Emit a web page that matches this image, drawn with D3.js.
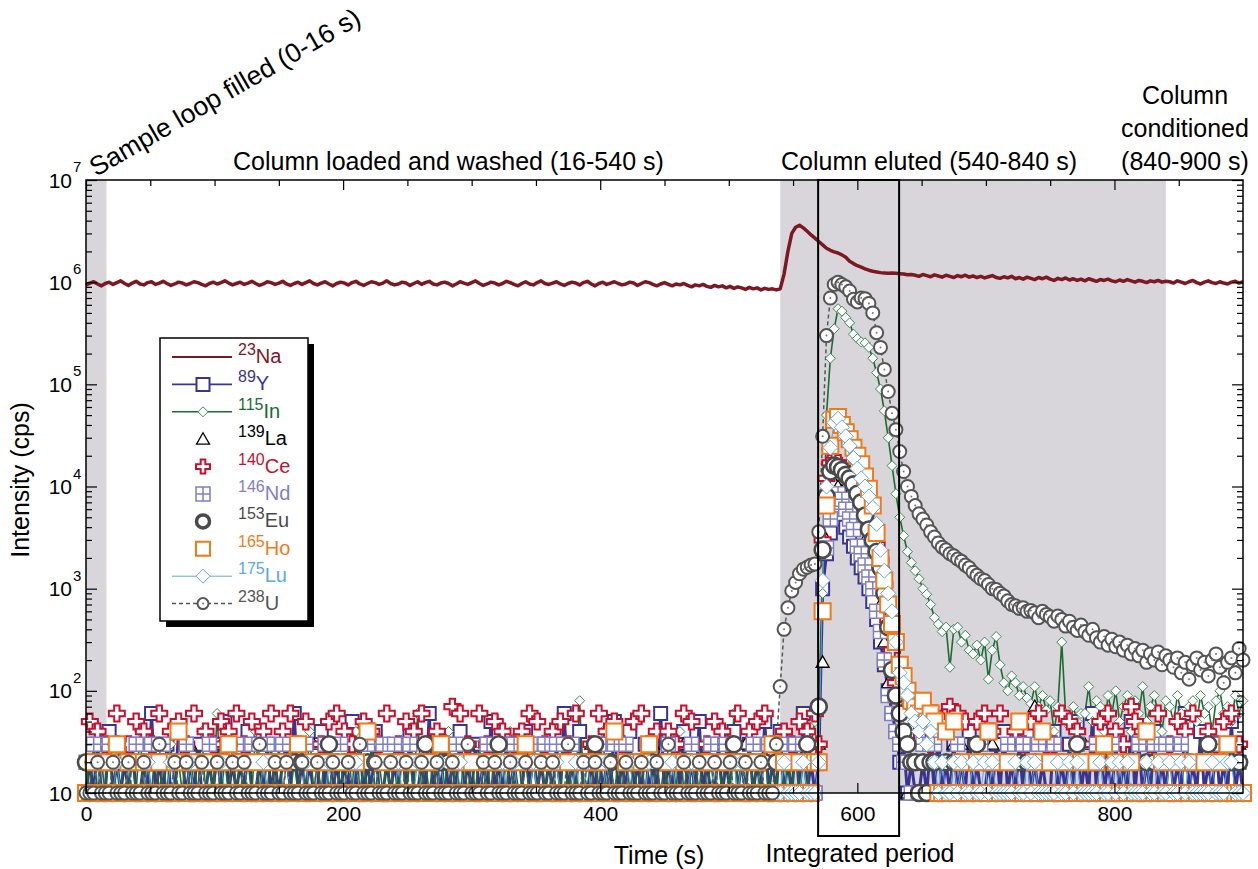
<!DOCTYPE html>
<html>
<head>
<meta charset="utf-8">
<script src="https://cdn.jsdelivr.net/npm/d3@7"></script>
<style>
  body { margin: 0; background: #fff; }
  svg { display: block; }
  text { font-family: "Liberation Sans", Arial, Helvetica, sans-serif; }
</style>
</head>
<body>
<svg id="chart" width="1258" height="869"></svg>
<script>
// ---------------------------------------------------------------
// Data: readings every STEP seconds from 0 to 900 s.
// Baseline strings: one digit per reading, digit k means k×10 cps.
// Elution arrays: cps values on the same 3 s grid from their start time.
// ---------------------------------------------------------------
const STEP = 3;
const timeTicks = [0, 200, 400, 600, 800];
const decadeTicks = [10, 100, 1e3, 1e4, 1e5, 1e6, 1e7];
const shadedPeriods = [[0, 16], [540, 840]];
const integratedPeriod = [569.5, 632.5];

// 23Na, units of 1e4 cps, t = 0..900 s
const naLevels = [
  94,98,101,96,92,97,100,95,99,103,97,93,98,102,96,94,99,101,95,98,
  102,97,93,96,100,98,94,97,101,99,95,92,97,100,96,99,103,98,94,97,
  100,95,98,102,97,93,96,101,99,95,
  98,102,96,93,97,100,95,99,103,97,94,98,101,96,92,97,100,98,94,99,
  102,96,93,97,101,99,95,98,103,97,94,96,100,98,93,97,101,95,99,102,
  96,94,98,100,97,92,96,101,98,95,
  99,103,97,93,96,100,98,94,97,102,99,95,92,97,101,96,94,99,103,97,
  95,98,101,96,93,97,100,98,94,99,102,96,92,97,100,95,98,101,97,94,
  96,100,98,93,97,101,99,95,92,96,
  99,95,92,96,94,97,93,90,94,92,95,91,89,93,90,92,88,91,87,90,
  88,85,89,86,88,84,87,85,86,84,
  86,120,200,300,345,360,340,315,290,270,250,232,215,205,198,193,185,175,160,152,
  145,140,135,131,128,126,124,123,122,123,122,121,120,118,119,
  117,114,119,116,113,118,115,112,117,114,111,116,113,117,112,115,111,114,110,113,
  116,111,109,113,110,114,108,111,107,112,109,106,111,108,112,107,104,109,106,110,
  105,108,104,107,103,108,105,102,106,104,107,103,101,105,102,106,103,100,104,102,
  99,103,101,104,100,102,
  101,98,103,100,97,101,104,99,96,100,103,99,97,101,98,96,100,102,98,101
];

// 89Y
const yLevels = `
1213114121 2131121612 1311421213 1121315121 2141121312
1231612121 1413121215 1312141121 2131411216 1213121412
1312151213 1211413121 2131612141 1213121512 1412131216
1213141215 1211312141 2131215121 4121316121 1312141213
1214121312 1311211213 1412131214 1211213141 2131412121
1412131512 1614121312 1513121412 1312161214 1213121512 1`;
const yElutionStart = 570;
const yElution = [20,1000,2200,3500,5000,5500,4800,4000,3200,2600,
  2000,1600,1300,1000,750,500,300,180,100,60, 40,20,30,10];

// 115In
const inLevels = `
2131213121 3121412131 2131213121 4121612131 2121412131
3121213141 2131212131 4121312121 3131216121 2131412121
2131213121 4131212131 2121312181 2131412121 3121213121
2131412121 3121213161 2131213121 4121312131 2121312131`;
const inElutionStart = 567;
const inElution = [50,60,900,50000,180000,350000,550000,520000,450000,400000,
  310000,280000,260000,255000,230000,180000,130000,90000,55000,30000,
  16000,8500,5000,3300,2300,1800,1500,1250,1000,880,
  700,520,450,380,420,170,400,420,300,350,
  250,230,280,200,300,130,250,340,180,120,
  100,140,120,90,110,85,75,110,70,90,
  65,80,40,70,300,60,45,70,50,60,
  60,110,50,80,70,40,90,60,100,50,
  70,90,40,80,60,110,50,70,90,60,
  40,80,70,50,90,60,40,70,80,50,
  90,60,70,40,80,100,60,70,50,90, 60,80];

// 139La
const laLevels = `
1113111211 1311121113 1112111311 1211131112 1113111211
1311121113 1112113311 1211131112 1113111211 1311121113
1112111311 1211131112 1113121211 1311121113 1112111311
1211131112 1113111211 1311121113 1112111311 1211131112
1113111211 1311121113 1112131311 1211131112 1113117211
1311121113 1112111311 1211131112 1113111211 1311121113 1`;
const laElutionStart = 570;
const laElution = [30,190,3000,9000,11000,10000,9000,8000,7000,6000,
  5000,4000,3000,2200,1600,1100,700,300,120,60, 40,30,20,10];

// 140Ce
const ceLevels = `
1514131161 1315141316 1141513161 1413151416 1315114161
1416131511 1315161413 1151413161 1315141611 1413171613
1161315141 1314161513 1415131611 1316141513 1151613141
1413161511 1315141316 1141516131 1413151416 1315114131
1514131611 1315161413 6151716151 1516141611 1413151613
1316151411 1315161413 1751413161 1315141611 1413151613 1`;
const ceElutionStart = 570;
const ceElution = [30,3000,12000,17000,18000,17000,15000,14000,12500,11000,
  9000,7500,6000,4500,3500,2700,1900,1100,500,250, 120,80,60,50,40,60];

// 146Nd
const ndLevels = `
2131213121 1213121312 3121213121 2131211213 1213121312
1312121312 2131213121 1213121312 3121312121 2131213121
2121312131 1312121313 2131213121 1213121312 3121213121
1312121312 2131213121 1213121312 3121312121 2131213121
2131213121 1213121312 3121213121 2131211213 1213121312
1312121312 2131213121 1213121312 3121312121 2131213121 1`;
const ndElutionStart = 570;
const ndElution = [20,600,2500,4800,7000,8500,7500,6000,4800,3800,
  2600,2200,1700,1300,1000,600,380,200,90,60, 40,30,20,20];

// 153Eu
const euLevels = `
2121212132 1221121212 2112122112 1212121312 2121121212
1212212112 2123121212 2112122112 1212121232 2121212112
2112122312 1212212112 2121121212 2132122112 1212121212
2121212112 1221121232 2112122112 1212121312 2121121212
1212212112 2123121212 2112122112 1312121212 2121212112
2112122312 1212212112 2121121212 2112122112 1312121212 1`;
const euElutionStart = 570;
const euElution = [70,2400,8000,14000,16000,15500,14500,13000,12000,10500,
  8500,7000,5200,3800,3000,2300,1600,900,420,160, 90,60,40,30,20,20];

// 165Ho
const hoLevels = `
1121112131 1211121112 1112411211 1211121311 2111211121
1211131112 1121112111 2114111211 1211121112 1131112111
2111211121 1121311211 1211121112 1112111411 2111213111
1211121112 1121112111 2111211131 1211121112 1121112111
1211121112 1121112111 2114151211 1211421112 1151112141
2111211121 1121311211 1211141112 1112111211 2111213111 1`;
const hoElutionStart = 570;
const hoElution = [20,600,6500,25000,45000,48000,40000,34000,29000,24000,
  20000,16500,12500,9500,6500,3500,2000,1200,700,450,
  300,180,140,100,80,70,60,80,50,60, 50];

// 175Lu
const luLevels = `
1112111121 1211112111 1121111211 2111121111 1211112111
1121111211 1112111121 2111121111 1211112111 1121111211
1112111121 1211112111 1121111211 2111121111 1211112111
1121111211 1112111121 2111121111 1211112111 1121111211
1112111121 1211112111 1121121211 2112121111 1211212111
1121121211 1112112121 2111121121 1211212111 1121112211 1`;
const luElutionStart = 570;
const luElution = [20,1200,10000,24000,42000,46000,38000,31000,25000,19000,
  15000,12000,10000,8000,6200,4300,2400,1500,900,600,
  300,150,120,90,60,50,40,50,30,40, 20];

// 238U
const uLevels = `
1112111211 1211121113 1112112111 2111211121 1211131112
1121112111 2111211121 1311121112 1112111211 1211121113
1112112111 2111211121 1211131112 1121112111 2111211121
1311121112 1112111211 1211121113 1112112111`;
const uElutionStart = 540;
const uElution = [110,400,650,950,1150,1400,1550,1620,1700,1740,
  3600,31000,300000,700000,950000,1000000,950000,900000,820000,680000,
  640000,700000,690000,620000,500000,320000,230000,140000,85000,52000,
  36000,22000,14000,10000,8000,6500,5400,4800,4200,3600,
  3200,2800,2550,2400,2200,2100,1950,1850,1700,1600,
  1450,1350,1250,1200,1100,1000,980,900,850,760,
  700,680,640,650,600,610,580,520,600,560,
  530,480,540,500,430,480,420,390,440,380,
  350,400,330,300,340,280,320,270,300,250,
  280,230,260,220,250,190,230,200,240,180,
  220,200,170,210,150,190,130,180,210,160,
  190,140,200,230,170,120,190,210,150,260, 200];

// ---------------------------------------------------------------
// Build point lists
// ---------------------------------------------------------------
function buildSeries(levels, start, elution) {
  const digits = levels.replace(/\s/g, "");
  const end = start + STEP * (elution.length - 1);
  const pts = [];
  for (let i = 0; i < digits.length; i++) {
    const t = i * STEP;
    if (t > 900) break;
    if (t >= start && t <= end) continue;
    pts.push({ t, v: +digits[i] * 10 });
  }
  elution.forEach((v, k) => pts.push({ t: start + k * STEP, v }));
  return pts.sort((a, b) => a.t - b.t);
}

const naPoints = naLevels.map((v, i) => ({ t: i * STEP, v: v * 1e4 }));

// ---------------------------------------------------------------
// Marker shapes (size s in px)
// ---------------------------------------------------------------
const shapes = {
  square: s => { const h = s / 2; return `M${-h},${-h}H${h}V${h}H${-h}Z`; },
  gridSquare: s => { const h = s / 2; return `M${-h},${-h}H${h}V${h}H${-h}ZM0,${-h}V${h}M${-h},0H${h}`; },
  diamond: s => { const h = s / 2; return `M0,${-h}L${h},0L0,${h}L${-h},0Z`; },
  triangle: s => { const h = s / 2; return `M0,${-h}L${h},${h * 0.75}L${-h},${h * 0.75}Z`; },
  cross: s => { const h = s / 2, a = s / 6; return `M${-a},${-h}H${a}V${-a}H${h}V${a}H${a}V${h}H${-a}V${a}H${-h}V${-a}H${-a}Z`; },
  circle: s => { const r = s / 2; return `M${r},0A${r},${r},0,1,1,${-r},0A${r},${r},0,1,1,${r},0Z`; }
};

const series = [
  { mass: "89",  el: "Y",  color: "#3b3391", pts: buildSeries(yLevels, yElutionStart, yElution),
    line: { w: 3 }, shape: "square", size: 13, sw: 2 },
  { mass: "115", el: "In", color: "#1b6b32", mcolor: "#3a8a55", pts: buildSeries(inLevels, inElutionStart, inElution),
    line: { w: 1.6 }, shape: "diamond", size: 10, sw: 1 },
  { mass: "139", el: "La", color: "#000000", pts: buildSeries(laLevels, laElutionStart, laElution),
    shape: "triangle", size: 13, sw: 1.3 },
  { mass: "140", el: "Ce", color: "#c8102e", pts: buildSeries(ceLevels, ceElutionStart, ceElution),
    shape: "cross", size: 16, sw: 2 },
  { mass: "146", el: "Nd", color: "#7f7fc6", pts: buildSeries(ndLevels, ndElutionStart, ndElution),
    shape: "gridSquare", size: 14, sw: 1.5 },
  { mass: "153", el: "Eu", color: "#4a4a4a", pts: buildSeries(euLevels, euElutionStart, euElution),
    shape: "circle", size: 16, sw: 2.6 },
  { mass: "165", el: "Ho", color: "#f07a1a", pts: buildSeries(hoLevels, hoElutionStart, hoElution),
    shape: "square", size: 16, sw: 2 },
  { mass: "175", el: "Lu", color: "#5aa8e2", pts: buildSeries(luLevels, luElutionStart, luElution),
    line: { w: 1 }, shape: "diamond", size: 15, sw: 1 },
  { mass: "238", el: "U",  color: "#555555", pts: buildSeries(uLevels, uElutionStart, uElution),
    line: { w: 1.5, dash: "4,3" }, shape: "circle", size: 13, sw: 2, dot: true }
];

// ---------------------------------------------------------------
// Scales and layout
// ---------------------------------------------------------------
const svg = d3.select("#chart");
const L = 86, R = 1243, T = 180, B = 793;
const x = d3.scaleLinear().domain([0, 900]).range([L, R]);
const y = d3.scaleLog().domain([10, 1e7]).range([B, T]);

// shaded periods
svg.append("g").selectAll("rect").data(shadedPeriods).join("rect")
  .attr("x", d => x(d[0])).attr("y", T)
  .attr("width", d => x(d[1]) - x(d[0])).attr("height", B - T)
  .attr("fill", "#d8d6db");

// lines
const lineGen = d3.line().x(d => x(d.t)).y(d => y(d.v));
const lines = svg.append("g").attr("fill", "none");
series.filter(s => s.line).forEach(s => {
  lines.append("path").datum(s.pts).attr("d", lineGen)
    .attr("stroke", s.color).attr("stroke-width", s.line.w)
    .attr("stroke-dasharray", s.line.dash || null)
    .attr("stroke-linejoin", "round");
});

// markers
series.forEach(s => {
  const g = svg.append("g");
  const d = shapes[s.shape](s.size);
  g.selectAll("path").data(s.pts).join("path")
    .attr("transform", p => `translate(${x(p.t)},${y(p.v)})`)
    .attr("d", d).attr("fill", "#fff")
    .attr("stroke", s.mcolor || s.color).attr("stroke-width", s.sw);
  if (s.dot) {
    g.selectAll("circle").data(s.pts).join("circle")
      .attr("cx", p => x(p.t)).attr("cy", p => y(p.v)).attr("r", 1)
      .attr("fill", "#777");
  }
});

// 23Na trace
svg.append("path").datum(naPoints).attr("d", lineGen)
  .attr("fill", "none").attr("stroke", "#7b1822").attr("stroke-width", 3.5)
  .attr("stroke-linejoin", "round");

// integrated period box
svg.append("rect")
  .attr("x", x(integratedPeriod[0])).attr("y", T)
  .attr("width", x(integratedPeriod[1]) - x(integratedPeriod[0])).attr("height", 836 - T)
  .attr("fill", "none").attr("stroke", "#000").attr("stroke-width", 2);

// ---------------------------------------------------------------
// Axes
// ---------------------------------------------------------------
const xMinor = d3.range(50, 900, 50).filter(v => !timeTicks.includes(v));
const yMinor = [];
for (let e = 1; e < 7; e++) for (let m = 2; m <= 9; m++) yMinor.push(m * Math.pow(10, e));

function styleAxis(g) {
  g.select(".domain").remove();
  g.selectAll("line").attr("stroke", "#000").attr("stroke-width", 1.2);
  g.selectAll("text").attr("font-size", 21).attr("fill", "#000")
    .attr("font-family", '"Liberation Sans", Arial, sans-serif');
}

svg.append("g").attr("transform", `translate(0,${B})`)
  .call(d3.axisBottom(x).tickValues(timeTicks).tickSize(-10).tickPadding(13).tickFormat(d3.format("d")))
  .call(styleAxis);
svg.append("g").attr("transform", `translate(0,${B})`)
  .call(d3.axisBottom(x).tickValues(xMinor).tickSize(-6).tickFormat(""))
  .call(styleAxis);
svg.append("g").attr("transform", `translate(0,${T})`)
  .call(d3.axisTop(x).tickValues(timeTicks).tickSize(-10).tickFormat(""))
  .call(styleAxis);
svg.append("g").attr("transform", `translate(0,${T})`)
  .call(d3.axisTop(x).tickValues(xMinor).tickSize(-6).tickFormat(""))
  .call(styleAxis);
svg.append("g").attr("transform", `translate(${L},0)`)
  .call(d3.axisLeft(y).tickValues(decadeTicks).tickSize(-11).tickFormat(""))
  .call(styleAxis);
svg.append("g").attr("transform", `translate(${L},0)`)
  .call(d3.axisLeft(y).tickValues(yMinor).tickSize(-6).tickFormat(""))
  .call(styleAxis);
svg.append("g").attr("transform", `translate(${R},0)`)
  .call(d3.axisRight(y).tickValues(decadeTicks).tickSize(-11).tickFormat(""))
  .call(styleAxis);
svg.append("g").attr("transform", `translate(${R},0)`)
  .call(d3.axisRight(y).tickValues(yMinor).tickSize(-6).tickFormat(""))
  .call(styleAxis);

// y tick labels: 10, 10², ... 10⁷
const yLab = svg.append("g").attr("font-size", 21).attr("fill", "#000");
decadeTicks.forEach(v => {
  const e = Math.round(Math.log10(v));
  yLab.append("text").attr("x", 72).attr("y", y(v)).attr("dy", "0.36em")
    .attr("text-anchor", "end").text("10");
  if (e > 1) {
    yLab.append("text").attr("x", 73).attr("y", y(v) - 8).attr("font-size", 15).text(e);
  }
});

// frame
svg.append("rect").attr("x", L).attr("y", T).attr("width", R - L).attr("height", B - T)
  .attr("fill", "none").attr("stroke", "#000").attr("stroke-width", 1.5);

// axis titles
svg.append("text").attr("transform", "translate(29,480) rotate(-90)")
  .attr("text-anchor", "middle").attr("font-size", 25).text("Intensity (cps)");
svg.append("text").attr("x", 659).attr("y", 864).attr("text-anchor", "middle")
  .attr("font-size", 25).text("Time (s)");
svg.append("text").attr("x", 860).attr("y", 862).attr("text-anchor", "middle")
  .attr("font-size", 25).text("Integrated period");

// period annotations
const ann = svg.append("g").attr("font-size", 25).attr("fill", "#000");
ann.append("text").attr("transform", "translate(96,177) rotate(-30)")
  .attr("font-size", 26.5).text("Sample loop filled (0-16 s)");
ann.append("text").attr("x", 233).attr("y", 170).text("Column loaded and washed (16-540 s)");
ann.append("text").attr("x", 781).attr("y", 170).text("Column eluted (540-840 s)");
ann.append("text").attr("x", 1185).attr("y", 104).attr("text-anchor", "middle").text("Column");
ann.append("text").attr("x", 1185).attr("y", 137).attr("text-anchor", "middle").text("conditioned");
ann.append("text").attr("x", 1185).attr("y", 170).attr("text-anchor", "middle").text("(840-900 s)");

// ---------------------------------------------------------------
// Legend
// ---------------------------------------------------------------
const lg = svg.append("g");
lg.append("rect").attr("x", 166).attr("y", 344).attr("width", 148).attr("height", 283).attr("fill", "#000");
lg.append("rect").attr("x", 160).attr("y", 338).attr("width", 148).attr("height", 283)
  .attr("fill", "#fff").attr("stroke", "#000").attr("stroke-width", 1.5);

const legendRows = [{ mass: "23", el: "Na", color: "#7b1822", line: { w: 2 } }].concat(series);
legendRows.forEach((s, i) => {
  const cy = 357 + i * 27.4;
  if (s.line) {
    lg.append("line").attr("x1", 172).attr("x2", 232).attr("y1", cy).attr("y2", cy)
      .attr("stroke", s.color).attr("stroke-width", Math.min(s.line.w, 1.8))
      .attr("stroke-dasharray", s.line.dash || null);
  }
  if (s.shape) {
    const sz = s.shape === "circle" ? (s.dot ? 11 : 13) : Math.min(s.size, 14);
    lg.append("path").attr("transform", `translate(203,${cy})`)
      .attr("d", shapes[s.shape](sz)).attr("fill", "#fff")
      .attr("stroke", s.mcolor || s.color).attr("stroke-width", s.shape === "circle" && !s.dot ? 3.5 : s.sw);
    if (s.dot) lg.append("circle").attr("cx", 203).attr("cy", cy).attr("r", 1).attr("fill", "#777");
  }
  const t = lg.append("text").attr("x", 238).attr("y", cy + 6).attr("fill", s.color);
  t.append("tspan").attr("font-size", 16).attr("dy", -8).text(s.mass);
  t.append("tspan").attr("font-size", 20).attr("dy", 8).text(s.el);
});
</script>
</body>
</html>
